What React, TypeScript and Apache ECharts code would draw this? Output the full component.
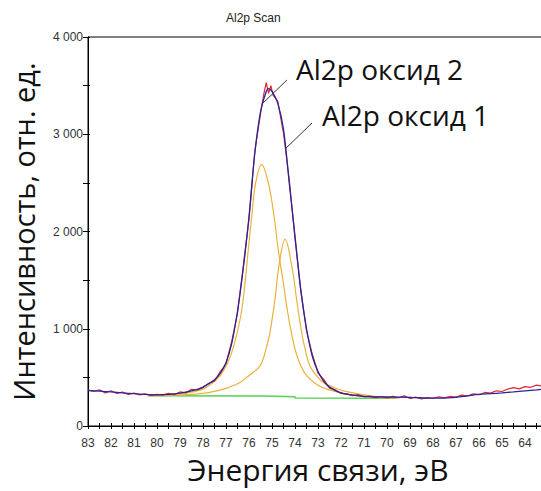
import React, { useEffect, useRef } from "react";
import * as echarts from "echarts";

const chartTitle = "Al2p Scan";
const xAxisName = "Энергия связи, эВ";
const yAxisName = "Интенсивность, отн. ед.";
const xMin = 63;
const xMax = 83;
const yMin = 0;
const yMax = 4000;

// measured spectrum (red)
const rawData: [number, number][] = [
  [83.0, 370], [82.75, 355], [82.5, 372], [82.25, 340], [82.0, 362], [81.75, 335], [81.5, 348],
  [81.25, 325], [81.0, 338], [80.75, 320], [80.5, 330], [80.25, 315], [80.0, 325], [79.75, 318],
  [79.5, 335], [79.25, 322], [79.0, 350], [78.75, 340], [78.5, 378], [78.25, 370], [78.0, 395],
  [77.75, 440], [77.5, 462], [77.25, 560], [77.0, 640], [76.75, 870], [76.5, 1160], [76.25, 1640],
  [76.0, 2130], [75.75, 2820], [75.5, 3210], [75.35, 3420], [75.25, 3530], [75.15, 3420],
  [75.05, 3500], [74.95, 3400], [74.75, 3340], [74.5, 3010], [74.25, 2530], [74.0, 1930],
  [73.75, 1400], [73.5, 980], [73.25, 740], [73.0, 545], [72.75, 480], [72.5, 390], [72.25, 372],
  [72.0, 335], [71.75, 330], [71.5, 312], [71.25, 322], [71.0, 300], [70.75, 308], [70.5, 292],
  [70.25, 302], [70.0, 288], [69.75, 305], [69.5, 290], [69.25, 310], [69.0, 282], [68.75, 298],
  [68.5, 278], [68.25, 292], [68.0, 285], [67.75, 300], [67.5, 290], [67.25, 305], [67.0, 298],
  [66.75, 318], [66.5, 308], [66.25, 330], [66.0, 322], [65.75, 345], [65.5, 338], [65.25, 362],
  [65.0, 355], [64.75, 380], [64.5, 395], [64.25, 382], [64.0, 405], [63.75, 398], [63.5, 420],
  [63.2, 410],
];

// fitted envelope (blue)
const envelope: [number, number][] = [
  [83.0, 365], [82.5, 358], [82.0, 350], [81.5, 340], [81.0, 332], [80.5, 325], [80.0, 320],
  [79.5, 325], [79.0, 338], [78.5, 360], [78.0, 400], [77.5, 475], [77.25, 540], [77.0, 650],
  [76.75, 850], [76.5, 1180], [76.25, 1620], [76.0, 2150], [75.75, 2800], [75.5, 3230],
  [75.25, 3440], [75.15, 3470], [75.0, 3440], [74.75, 3320], [74.5, 3050], [74.25, 2500],
  [74.0, 1950], [73.75, 1400], [73.5, 1000], [73.25, 720], [73.0, 560], [72.75, 460], [72.5, 400],
  [72.0, 340], [71.5, 318], [71.0, 305], [70.0, 298], [69.0, 295], [68.0, 286], [67.0, 295],
  [66.5, 310], [66.0, 325], [65.5, 332], [65.0, 340], [64.5, 350], [64.0, 362], [63.5, 372],
  [63.2, 378],
];

// component "оксид 2" (orange, larger)
const component1: [number, number][] = [
  [80.4, 312], [79.0, 330], [78.5, 348], [78.0, 379], [77.6, 440], [77.26, 516], [76.95, 640],
  [76.7, 790], [76.36, 1131], [76.17, 1477], [76.03, 1815], [75.88, 2157], [75.71, 2499],
  [75.45, 2687], [75.16, 2499], [74.91, 2157], [74.73, 1815], [74.51, 1477], [74.29, 1131],
  [74.0, 790], [73.75, 620], [73.49, 516], [73.0, 420], [72.62, 379], [71.75, 328], [70.8, 300],
  [69.6, 288],
];

// component "оксид 1" (orange, smaller)
const component2: [number, number][] = [
  [80.4, 312], [79.0, 318], [78.0, 335], [77.4, 362], [76.9, 395], [76.39, 448], [76.0, 520],
  [75.52, 618], [75.25, 800], [75.09, 961], [74.87, 1302], [74.7, 1644], [74.43, 1918],
  [74.14, 1644], [73.93, 1302], [73.71, 961], [73.55, 780], [73.35, 618], [73.0, 500],
  [72.77, 448], [72.3, 395], [71.9, 362], [71.0, 320], [70.3, 297], [69.6, 287],
];

// background (green)
const background: [number, number][] = [
  [80.4, 312], [75.3, 308], [75.3, 302], [74.0, 300], [74.0, 289], [69.6, 286],
];

// leader lines of the annotations, in data units
const leaderLines: [[number, number], [number, number]][] = [
  [[75.39, 3321], [74.35, 3558]],
  [[74.43, 2848], [73.26, 3116]],
];
const annotationTexts = ["Al2p оксид 2", "Al2p оксид 1"];

const yLabel = (v: number) => {
  if (v % 1000 !== 0) return "";
  if (v === 0) return "0";
  return `${v / 1000} 000`;
};
const xLabel = (v: number) =>
  Number.isInteger(v) && v > xMin ? String(v) : "";

export default function App() {
  const ref = useRef<HTMLDivElement>(null);
  useEffect(() => {
    if (!ref.current) return;
    const chart = echarts.init(ref.current, undefined, { renderer: "svg" });
    const tickFont = { fontFamily: "Liberation Sans, Arial", fontSize: 12, color: "#333" };
    const yNameFont = { fontFamily: "Open Sans", fontSize: 29, color: "#111", lineHeight: 26 };
    const xNameFont = { fontFamily: "Open Sans", fontSize: 30, color: "#111", lineHeight: 24 };
    const lineSeries = (name: string, data: [number, number][], color: string, width = 1.2, smooth: boolean | number = true) => ({
      name,
      type: "line",
      data,
      showSymbol: false,
      symbol: "none",
      smooth,
      lineStyle: { color, width },
      z: 2,
    });
    chart.setOption({
      animation: false,
      backgroundColor: "#fff",
      grid: {
        left: 88,
        width: 460,
        top: 37,
        bottom: 65,
        outerBoundsMode: "none",
        containLabel: false,
        show: true,
        borderColor: "#000",
        borderWidth: 1,
        backgroundColor: "transparent",
      },
      graphic: [
        {
          type: "text",
          left: 226,
          top: 12,
          style: { text: chartTitle, font: "12px 'Liberation Sans', Arial", fill: "#222" },
        },
        {
          type: "text",
          x: 296,
          y: 69,
          style: { text: annotationTexts[0], font: "28px 'Open Sans'", fill: "#111", verticalAlign: "middle" },
        },
        {
          type: "text",
          x: 322,
          y: 115,
          style: { text: annotationTexts[1], font: "28px 'Open Sans'", fill: "#111", verticalAlign: "middle" },
        },
      ],
      xAxis: [
        {
          type: "value",
          inverse: true,
          min: xMin,
          max: xMax,
          interval: 0.5,
          name: xAxisName,
          nameLocation: "middle",
          nameGap: 31,
          nameTextStyle: xNameFont,
          axisLine: { show: true, onZero: false, lineStyle: { color: "#000", width: 1 } },
          axisTick: { show: true, length: 3, lineStyle: { color: "#000" } },
          axisLabel: { ...tickFont, margin: 11, formatter: xLabel },
          splitLine: { show: false },
        },
        {
          type: "value",
          inverse: true,
          min: xMin,
          max: xMax,
          interval: 0.5,
          position: "bottom",
          axisLine: { show: false, onZero: false },
          axisTick: { show: true, inside: true, length: 3, lineStyle: { color: "#000" } },
          axisLabel: { show: false },
          splitLine: { show: false },
        },
      ],
      yAxis: [
        {
          type: "value",
          min: yMin,
          max: yMax,
          interval: 500,
          name: yAxisName,
          nameLocation: "middle",
          nameGap: 52,
          nameTextStyle: yNameFont,
          axisLine: { show: true, onZero: false, lineStyle: { color: "#000", width: 1 } },
          axisTick: { show: true, length: 5, lineStyle: { color: "#000" } },
          axisLabel: { ...tickFont, margin: 5, formatter: yLabel, showMinLabel: true, showMaxLabel: true },
          splitLine: { show: false },
        },
        {
          type: "value",
          min: yMin,
          max: yMax,
          interval: 500,
          position: "left",
          axisLine: { show: false, onZero: false },
          axisTick: { show: true, inside: true, length: 2, lineStyle: { color: "#000" } },
          axisLabel: { show: false },
          splitLine: { show: false },
        },
      ],
      series: [
        lineSeries("background", background, "#52d452", 1.5, false),
        lineSeries("component1", component1, "#e8b33a", 1.2, 0.4),
        lineSeries("component2", component2, "#e8b33a", 1.2, 0.4),
        lineSeries("raw", rawData, "#e5262b", 1.2, false),
        {
          ...lineSeries("envelope", envelope, "#26269a", 1.3, 0.35),
          markLine: {
            silent: true,
            symbol: ["none", "none"],
            label: { show: false },
            lineStyle: { color: "#333", width: 1, type: "solid" },
            data: leaderLines.map(([a, b]) => [{ coord: a }, { coord: b }]),
          },
        },
      ],
    });
    return () => chart.dispose();
  }, []);
  return (
    <div
      ref={ref}
      style={{ position: "fixed", left: 0, top: 0, width: 541, height: 491, background: "#fff" }}
    />
  );
}
